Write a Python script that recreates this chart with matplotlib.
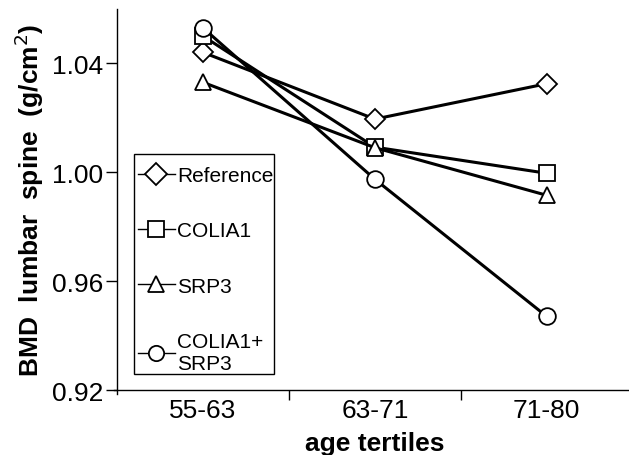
import matplotlib
matplotlib.use("Agg")
import matplotlib.pyplot as plt
from matplotlib.patches import Rectangle

plt.rcParams["font.family"] = ["Liberation Sans", "DejaVu Sans"]

tertiles = ["55-63", "63-71", "71-80"]
reference = [1.044, 1.0195, 1.0325]
colia1 = [1.0500, 1.0092, 0.9996]
srp3 = [1.0330, 1.0090, 0.9915]
colia1_srp3 = [1.0530, 0.9974, 0.9470]

series = [
    ("Reference", reference, "D"),
    ("COLIA1", colia1, "s"),
    ("SRP3", srp3, "^"),
    ("COLIA1+\nSRP3", colia1_srp3, "o"),
]

fig = plt.figure(figsize=(6.29, 4.56), dpi=100)
ax = fig.add_axes([0.186, 0.1425, 0.82, 0.836])

xpos = [i + 0.5 for i in range(len(tertiles))]
for label, vals, mk in series:
    ms = 10 if mk == "D" else 12
    ax.plot(xpos, vals, "-", color="black", linewidth=2.2,
            marker=mk, markersize=ms, markerfacecolor="white",
            markeredgecolor="black", markeredgewidth=1.3, label=label)

ax.set_xlim(0, 3)
ax.set_ylim(0.92, 1.06)
ax.set_yticks([0.92, 0.96, 1.00, 1.04])
ax.set_yticklabels(["0.92", "0.96", "1.00", "1.04"], fontsize=19)
ax.set_xticks([1, 2])
ax.set_xticklabels([])
ax.set_xticks(xpos, minor=True)
ax.set_xticklabels(tertiles, minor=True, fontsize=19)
ax.tick_params(axis="x", which="minor", length=0, pad=6)
ax.tick_params(axis="x", which="major", length=7, width=1, direction="out")
ax.tick_params(axis="y", length=8, width=1, direction="out", pad=2)

for s in ["top", "right"]:
    ax.spines[s].set_visible(False)
ax.spines["left"].set_linewidth(1)
ax.spines["bottom"].set_linewidth(1)
ax.spines["bottom"].set_bounds(-0.02, 3)
ax.spines["left"].set_bounds(0.9185, 1.06)

ax.set_xlabel("age tertiles", fontsize=19, fontweight="bold", labelpad=6)
ax.set_ylabel("BMD  lumbar  spine  (g/cm$^2$)", fontsize=19,
              fontweight="bold", labelpad=4)

# legend box drawn separately: tight on the sides, roomy top/bottom
ax.add_patch(Rectangle((0.033, 0.042), 0.271, 0.577, transform=ax.transAxes,
                       facecolor="white", edgecolor="black", lw=1, zorder=4))
leg = ax.legend(loc="upper left", bbox_to_anchor=(0.040, 0.588),
                fontsize=15, handlelength=1.8, handletextpad=0.1,
                labelspacing=1.75, borderpad=0, frameon=False,
                borderaxespad=0)
leg.set_zorder(5)
for h in leg.legend_handles:
    h.set_linewidth(1)
    h.set_markersize(11)

fig.savefig("out.png", dpi=100)
